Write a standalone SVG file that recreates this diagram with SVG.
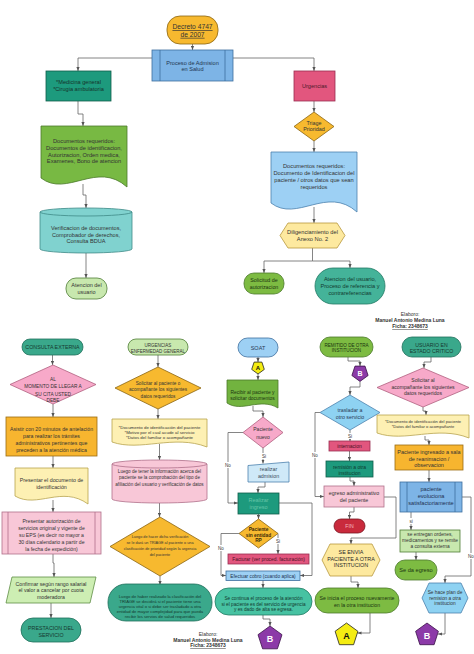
<svg xmlns="http://www.w3.org/2000/svg" width="474" height="654" viewBox="0 0 474 654">
<defs>
<marker id="ah" viewBox="0 0 10 10" refX="10" refY="5" markerWidth="4" markerHeight="4" markerUnits="userSpaceOnUse" orient="auto"><path d="M0,1 L10,5 L0,9 z" fill="#555"/></marker>
<style>
text{font-family:"Liberation Sans",Arial,sans-serif;fill:#333;text-anchor:middle;dominant-baseline:central}
.c{fill:none;stroke:#666;stroke-width:0.8;marker-end:url(#ah)}
.n{fill:none;stroke:#666;stroke-width:0.8}
.s{stroke-width:0.8}
.org{fill:#f7b92f;stroke:#8a6512}
.blu{fill:#7db4e6;stroke:#3d6e9e}
.lblu{fill:#9dd0f4;stroke:#4d82ad}
.cyan{fill:#8ed2f2;stroke:#4d82ad}
.tdk{fill:#1d9a7d;stroke:#0f5e4a}
.tmd{fill:#3aa88b;stroke:#1f6e5a}
.grn{fill:#7dbb42;stroke:#4b7a2b}
.lgr{fill:#c8e8ae;stroke:#4f7d36}
.pnk{fill:#e2567e;stroke:#9a2d50}
.lpk{fill:#f8c7d7;stroke:#b0708a}
.dpk{fill:#f7a9c9;stroke:#b0607f}
.lyl{fill:#fdf0b3;stroke:#b7a34c}
.hyl{fill:#fde99f;stroke:#b8983e}
.lbl{font-size:4.5px}
</style>
</defs>

<g id="connectors">
<path class="c" d="M192.5,44 V50"/>
<path class="c" d="M152,58 H78 V71"/>
<path class="c" d="M233,58 H314 V71"/>
<path class="c" d="M78,101 V114 H83 V126"/>
<path class="c" d="M83,184 V195 H86 V208"/>
<path class="c" d="M86,253 V278"/>
<path class="c" d="M314,101 V112"/>
<path class="c" d="M314,141 V152"/>
<path class="c" d="M314,207 V223"/>
<path class="c" d="M312.5,248 V261 H264 V273"/>
<path class="c" d="M312.5,261 H350 V268"/>

<path class="c" d="M52.5,355 V365"/>
<path class="c" d="M53,404 V417"/>
<path class="c" d="M53,456 V468"/>
<path class="c" d="M53,500 V512"/>
<path class="c" d="M53,554 V563 H54 V577"/>
<path class="c" d="M51,603 V618"/>

<path class="c" d="M158,355 V367"/>
<path class="c" d="M158,409 V419"/>
<path class="c" d="M159.5,444 V460"/>
<path class="c" d="M159.5,503 V517"/>
<path class="c" d="M160,576 V585"/>

<path class="c" d="M258,357 V362"/>
<path class="c" d="M258,374 V380"/>
<path class="c" d="M253,406 V411 H263 V417"/>
<path class="c" d="M263,448 V463.5"/>
<path class="c" d="M243,432.5 H228 V503 H238"/>
<path class="c" d="M265,482 V487 H258 V493"/>
<path class="c" d="M279,503 H312 V575.5 H300"/>
<path class="c" d="M258.5,514 V519"/>
<path class="c" d="M278,533.5 V554"/>
<path class="c" d="M239,533.5 H221 V575.5 H226"/>
<path class="c" d="M263,580 V588"/>
<path class="c" d="M263,615 V619 H270 V626"/>

<path class="c" d="M348,357 V361 H360 V366"/>
<path class="c" d="M360,381.5 V387 H350 V395"/>
<path class="c" d="M350,430 V441"/>
<path class="c" d="M320,412.5 H315 V496.5 H324"/>
<path class="c" d="M349.5,451 V461"/>
<path class="c" d="M350,477 V481 H354 V486"/>
<path class="c" d="M354,507 V512 H349.5 V519"/>
<path class="c" d="M384,497 H396 V538 H351 V544"/>
<path class="c" d="M351,576 V582 H358 V588"/>
<path class="c" d="M370,613 V633 H357.5"/>

<path class="c" d="M431,357 V362 H424 V368"/>
<path class="c" d="M423,407 V411 H426 V415"/>
<path class="c" d="M425,436 V440 H429 V445"/>
<path class="c" d="M429,470 V482"/>
<path class="c" d="M411,512 V530"/>
<path class="c" d="M462,497 H471 V576 H445 V583"/>
<path class="c" d="M416,552 V560"/>
<path class="c" d="M445,613 V634 H438"/>

<g id="labels">
<rect x="259" y="453" width="10" height="6" fill="#fff"/><text x="264" y="456" class="lbl">Si</text>
<rect x="223" y="462" width="10" height="6" fill="#fff"/><text x="228" y="465" class="lbl">No</text>
<rect x="273" y="538" width="10" height="6" fill="#fff"/><text x="278" y="541" class="lbl">Si</text>
<rect x="216" y="545" width="10" height="6" fill="#fff"/><text x="221" y="548" class="lbl">No</text>
<rect x="345" y="433" width="10" height="6" fill="#fff"/><text x="350" y="436" class="lbl">Si</text>
<rect x="310" y="452" width="10" height="6" fill="#fff"/><text x="315" y="455" class="lbl">No</text>
<rect x="407" y="518" width="8" height="6" fill="#fff"/><text x="411" y="521" class="lbl">si</text>
<rect x="466" y="553" width="10" height="6" fill="#fff"/><text x="471" y="556" class="lbl">No</text>
</g>
</g>

<!-- TOP SECTION -->
<g id="decreto">
<rect class="org s" x="167" y="16" width="51" height="28" rx="13"/>
<text x="192.5" y="26.8" font-size="6.7" text-decoration="underline">Decreto 4747</text>
<text x="192.5" y="34.3" font-size="6.7" text-decoration="underline">de 2007</text>
</g>
<g id="proceso">
<rect class="blu s" x="152" y="50" width="81" height="31"/>
<line x1="160" y1="50" x2="160" y2="81" stroke="#3d6e9e" stroke-width="0.8"/>
<line x1="225" y1="50" x2="225" y2="81" stroke="#3d6e9e" stroke-width="0.8"/>
<text x="192.5" y="62.5" font-size="5.6" style="fill:#23344f">Proceso de Admision</text>
<text x="192.5" y="69" font-size="5.6" style="fill:#23344f">en Salud</text>
</g>
<g id="medicina">
<rect class="tdk s" x="46" y="71" width="65" height="30"/>
<text x="78.5" y="82" font-size="5.6" style="fill:#15332b">*Medicina general</text>
<text x="78.5" y="89" font-size="5.6" style="fill:#15332b">*Cirugia ambulatoria</text>
</g>
<g id="docs-requeridos">
<path class="grn s" d="M41,126 H127 V187 C97,160 67,198 41,178 Z" style="fill:#78b943"/>
<text x="84" y="141.3" font-size="5.7">Documentos requeridos:</text>
<text x="84" y="148" font-size="5.7">Documentos de identificacion,</text>
<text x="84" y="154.7" font-size="5.7">Autorizacion, Orden medica,</text>
<text x="84" y="161.3" font-size="5.7">Examenes, Bono de atencion</text>
</g>
<g id="verificacion">
<path d="M40,212 V249 A46,4 0 0 0 132,249 V212 Z" fill="#80d2cf" stroke="#3f8a88" stroke-width="0.8"/>
<ellipse cx="86" cy="212" rx="46" ry="4" fill="#80d2cf" stroke="#3f8a88" stroke-width="0.8"/>
<text x="86" y="228" font-size="5.6">Verificacion de documentos,</text>
<text x="86" y="234.7" font-size="5.6">Comprobador de derechos,</text>
<text x="86" y="241.3" font-size="5.6">Consulta BDUA</text>
</g>
<g id="atencion1">
<rect class="lgr s" x="66" y="278" width="41" height="21" rx="10"/>
<text x="86.5" y="285.3" font-size="5.5">Atencion del</text>
<text x="86.5" y="291.8" font-size="5.5">usuario</text>
</g>
<g id="urgencias">
<rect class="pnk s" x="294" y="71" width="41" height="30"/>
<text x="314.5" y="86" font-size="5.6" style="fill:#4a1a2a">Urgencias</text>
</g>
<g id="triage">
<polygon class="org s" points="314,112 334,126.5 314,141 294,126.5"/>
<text x="314" y="122.5" font-size="5.4">Triage</text>
<text x="314" y="129.3" font-size="5.4">Prioridad</text>
</g>
<g id="docs-urg">
<path class="lblu s" d="M271,152 H357 V212 C327,185 297,223 271,203 Z"/>
<text x="314" y="166" font-size="5.7">Documentos requeridos:</text>
<text x="314" y="173" font-size="5.7">Documento de Identificacion del</text>
<text x="314" y="180" font-size="5.7">paciente / otros datos que sean</text>
<text x="314" y="187" font-size="5.7">requeridos</text>
</g>
<g id="anexo">
<polygon class="hyl s" points="288,223 337,223 345,235.5 337,248 288,248 280,235.5"/>
<text x="312.5" y="232" font-size="5.7">Diligenciamiento del</text>
<text x="312.5" y="239.3" font-size="5.7">Anexo No. 2</text>
</g>
<g id="solicitud">
<rect class="grn s" x="244" y="273" width="40" height="21" rx="10"/>
<text x="264" y="279.7" font-size="5.3" style="fill:#1b3510">Solicitud de</text>
<text x="264" y="287" font-size="5.3" style="fill:#1b3510">autorizacion</text>
</g>
<g id="atencion2">
<rect x="315" y="268" width="70" height="36" rx="18" fill="#44b399" stroke="#237a64" stroke-width="0.8"/>
<text x="350" y="279" font-size="5.6" style="fill:#123a30">Atencion del usuario,</text>
<text x="350" y="286" font-size="5.6" style="fill:#123a30">Proceso de referencia y</text>
<text x="350" y="293" font-size="5.6" style="fill:#123a30">contrareferencias</text>
</g>
<g id="elaboro1">
<text x="410" y="314" font-size="5">Elaboro:</text>
<text x="410" y="320" font-size="5" font-weight="bold">Manuel Antonio Medina Luna</text>
<text x="410" y="326" font-size="5" font-weight="bold" text-decoration="underline">Ficha: 2348673</text>
</g>

<!-- COLUMN 1 -->
<g id="consulta-externa">
<rect class="tmd s" x="22" y="339" width="61" height="16" rx="8"/>
<text x="52.5" y="347.3" font-size="5.3" style="fill:#163a30">CONSULTA EXTERNA</text>
</g>
<g id="al-momento">
<polygon class="dpk s" points="53,365 96,384.5 53,404 10,384.5"/>
<text x="53" y="379" font-size="4.8">AL</text>
<text x="53" y="386.5" font-size="4.8">MOMENTO DE LLEGAR A</text>
<text x="53" y="394" font-size="4.8">SU CITA USTED</text>
<text x="53" y="400.8" font-size="4.8">DEBE</text>
</g>
<g id="asistir">
<rect x="6" y="417" width="91" height="39" fill="#f7b52f" stroke="#9b6d12" stroke-width="0.8"/>
<text x="51.5" y="429" font-size="5.2">Asistir con 20 minutos de antelación</text>
<text x="51.5" y="436" font-size="5.2">para realizar los trámites</text>
<text x="51.5" y="443" font-size="5.2">administrativos pertinentes que</text>
<text x="51.5" y="450" font-size="5.2">preceden a la atención médica</text>
</g>
<g id="presentar-doc">
<path class="lyl s" d="M15,468 H88 V504 C62,485 37,509 15,496 Z"/>
<text x="51.5" y="480" font-size="5.3">Presentar el documento de</text>
<text x="51.5" y="487" font-size="5.3">identificación</text>
</g>
<g id="presentar-aut">
<rect class="lpk s" x="2" y="512" width="99" height="42"/>
<line x1="8" y1="512" x2="8" y2="554" stroke="#b0708a" stroke-width="0.8"/>
<line x1="95" y1="512" x2="95" y2="554" stroke="#b0708a" stroke-width="0.8"/>
<text x="51.5" y="521" font-size="5.1">Presentar autorización de</text>
<text x="51.5" y="528" font-size="5.1">servicios original y vigente de</text>
<text x="51.5" y="535" font-size="5.1">su EPS (es decir no mayor a</text>
<text x="51.5" y="542" font-size="5.1">30 días calendario a partir de</text>
<text x="51.5" y="549" font-size="5.1">la fecha de expedición)</text>
</g>
<g id="confirmar">
<polygon points="12,577 96,577 90,603 6,603" fill="#cdeeb3" stroke="#5e8d45" stroke-width="0.8"/>
<text x="51" y="583.5" font-size="5.2">Confirmar según rango salarial</text>
<text x="51" y="590.2" font-size="5.2">el valor a cancelar por cuota</text>
<text x="51" y="597" font-size="5.2">moderadora</text>
</g>
<g id="prestacion">
<rect class="tmd s" x="21" y="618" width="60" height="24" rx="12"/>
<text x="51" y="628" font-size="5.3" style="fill:#163a30">PRESTACION DEL</text>
<text x="51" y="634.5" font-size="5.3" style="fill:#163a30">SERVICIO</text>
</g>

<!-- COLUMN 2 -->
<g id="urgencias-eg">
<rect class="lgr s" x="128" y="339" width="60" height="16" rx="8"/>
<text x="158" y="345.8" font-size="4.5">URGENCIAS</text>
<text x="158" y="351.3" font-size="4.5">ENFERMEDAD GENERAL</text>
</g>
<g id="solicitar-paciente">
<polygon class="org s" points="158,367 201,388 158,409 115,388"/>
<text x="158" y="383" font-size="4.7">Solicitar al paciente o</text>
<text x="158" y="389.8" font-size="4.7">acompañante los siguientes</text>
<text x="158" y="396.3" font-size="4.7">datos requeridos</text>
</g>
<g id="doc-paciente">
<path class="lyl s" d="M112,419 H207 V447 C174,434 140,452 112,442 Z"/>
<text x="159.5" y="427" font-size="4.4">*Documento de identificación del paciente</text>
<text x="159.5" y="432.2" font-size="4.4">*Motivo por el cual acude al servicio</text>
<text x="159.5" y="437.3" font-size="4.4">*Datos del familiar o acompañante</text>
</g>
<g id="comprobacion">
<path d="M112,464 V499 A47.5,4 0 0 0 207,499 V464 Z" fill="#f8c7d7" stroke="#b0708a" stroke-width="0.8"/>
<ellipse cx="159.5" cy="464" rx="47.5" ry="4" fill="#f8c7d7" stroke="#b0708a" stroke-width="0.8"/>
<text x="159.5" y="471" font-size="4.6">Luego de tener la información acerca del</text>
<text x="159.5" y="477.6" font-size="4.6">paciente se la comprobación del tipo de</text>
<text x="159.5" y="484.2" font-size="4.6">afiliación del usuario y verificación de datos</text>
</g>
<g id="triage-decision">
<polygon class="org s" points="160,517 210,546.5 160,576 110,546.5"/>
<text x="160" y="537" font-size="3.8">Luego de hacer dicha verificación</text>
<text x="160" y="543.2" font-size="3.8">se le dará un TRIAGE  al paciente o una</text>
<text x="160" y="549.3" font-size="3.8">clasificación de prioridad según la urgencia</text>
<text x="160" y="555.3" font-size="3.8">del paciente</text>
</g>
<g id="clasificacion">
<rect class="tmd s" x="108" y="584" width="104" height="37" rx="18"/>
<text x="160" y="596" font-size="4.2" style="fill:#143a30">Luego de haber realizado la clasificación del</text>
<text x="160" y="601.2" font-size="4.2" style="fill:#143a30">TRIAGE se decidirá si el paciente tiene una</text>
<text x="160" y="606.4" font-size="4.2" style="fill:#143a30">urgencia vital o si debe ser trasladado a otra</text>
<text x="160" y="611.6" font-size="4.2" style="fill:#143a30">entidad de mayor complejidad para que pueda</text>
<text x="160" y="616.8" font-size="4.2" style="fill:#143a30">recibir los servios de salud requeridos</text>
</g>
<g id="elaboro2">
<text x="208" y="634" font-size="5">Elaboro:</text>
<text x="208" y="639.7" font-size="5" font-weight="bold">Manuel Antonio Medina Luna</text>
<text x="208" y="645.4" font-size="5" font-weight="bold" text-decoration="underline">Ficha: 2348673</text>
</g>

<!-- COLUMN 3 -->
<g id="soat">
<rect class="lblu s" x="238" y="338" width="40" height="19" rx="9.5" style="stroke:#3d6e9e"/>
<text x="258" y="347.5" font-size="5.5" style="fill:#2a3a55">SOAT</text>
</g>
<g id="conn-a-top">
<polygon points="264.3,369.4 258,374 251.7,369.4 254.1,362.1 261.9,362.1" fill="#f4ec12" stroke="#222" stroke-width="0.8"/>
<text x="258" y="367.6" font-size="6" font-weight="bold" style="fill:#111">A</text>
</g>
<g id="recibir">
<path d="M227,380 H278 V408 C260,397 242,413 227,403 Z" fill="#72b33f" stroke="#4b7a2b" stroke-width="0.8"/>
<text x="252.5" y="392.5" font-size="4.9" style="fill:#1b3510">Recibir al paciente y</text>
<text x="252.5" y="398.5" font-size="4.9" style="fill:#1b3510">solicitar documentos</text>
</g>
<g id="paciente-nuevo">
<polygon class="dpk s" points="263,417 283,432.5 263,448 243,432.5"/>
<text x="263" y="429" font-size="5">Paciente</text>
<text x="263" y="436.5" font-size="5">nuevo</text>
</g>
<g id="realizar-admision">
<polygon points="248,465.5 289,462 289,482 248,482" fill="#cfe9f8" stroke="#4d82ad" stroke-width="0.8"/>
<text x="268.5" y="468.7" font-size="5.3" style="fill:#3a4a5a">realizar</text>
<text x="268.5" y="475.5" font-size="5.3" style="fill:#3a4a5a">admision</text>
</g>
<g id="realizar-ingreso">
<rect class="tdk s" x="238" y="493" width="41" height="21"/>
<text x="258.5" y="499.5" font-size="5.5" style="fill:#66c6a8">Realizar</text>
<text x="258.5" y="506.5" font-size="5.5" style="fill:#66c6a8">ingreso</text>
</g>
<g id="sin-entidad">
<polygon class="org s" points="258.5,519 278,533.5 258.5,548 239,533.5"/>
<text x="258.5" y="529" font-size="4.8" font-weight="bold" style="fill:#3a2a08">Paciente</text>
<text x="258.5" y="535" font-size="4.8" font-weight="bold" style="fill:#3a2a08">sin entidad</text>
<text x="258.5" y="540.6" font-size="4.8" font-weight="bold" style="fill:#3a2a08">RP</text>
</g>
<g id="facturar">
<rect class="pnk s" x="228" y="554" width="81" height="10"/>
<text x="268.5" y="559.2" font-size="4.9" style="fill:#4a1024">Facturar (ver proced. facturación)</text>
</g>
<g id="efectuar">
<rect class="lblu s" x="226" y="571" width="74" height="9.5" style="stroke:#3d6e9e"/>
<text x="263" y="576" font-size="4.8" style="fill:#1d3050">Efectuar cobro (cuando aplica)</text>
</g>
<g id="se-continua">
<rect x="215" y="588" width="97" height="27" rx="13.5" fill="#47c2a2" stroke="#227a62" stroke-width="0.8"/>
<text x="263.5" y="598.7" font-size="4.7" style="fill:#123a30">Se continua el proceso de la atención</text>
<text x="263.5" y="604.2" font-size="4.7" style="fill:#123a30">si el paciente es del servicio de urgencia</text>
<text x="263.5" y="609.7" font-size="4.7" style="fill:#123a30">y es dado de alta se egresa.</text>
</g>
<g id="conn-b-1">
<polygon points="270,626 282,634.7 277.4,648.8 262.6,648.8 258,634.7" fill="#8c3aa8" stroke="#3a1048" stroke-width="0.8"/>
<text x="270" y="639" font-size="9" font-weight="bold" style="fill:#fff">B</text>
</g>

<!-- COLUMN 4 -->
<g id="remitido">
<rect class="grn s" x="320" y="337" width="53" height="20" rx="10"/>
<text x="346.5" y="345" font-size="4.6" style="fill:#1b3510">REMITIDO DE OTRA</text>
<text x="346.5" y="350.6" font-size="4.6" style="fill:#1b3510">INSTITUCION</text>
</g>
<g id="conn-b-top">
<polygon points="368.1,375.5 360,381.4 351.9,375.5 355,366.1 365,366.1" fill="#8c3aa8" stroke="#3a1048" stroke-width="0.8"/>
<text x="360" y="373" font-size="7" font-weight="bold" style="fill:#fff">B</text>
</g>
<g id="trasladar">
<polygon class="cyan s" points="350,395 380,412.5 350,430 320,412.5"/>
<text x="350" y="410" font-size="5.3" style="fill:#2a3a55">trasladar a</text>
<text x="350" y="416.5" font-size="5.3" style="fill:#2a3a55">otro servicio</text>
</g>
<g id="internacion">
<rect class="pnk s" x="329" y="441" width="41" height="10"/>
<text x="349.5" y="446.2" font-size="5" style="fill:#4a1024">internacion</text>
</g>
<g id="remision">
<rect class="tdk s" x="326" y="461" width="47" height="16"/>
<text x="349.5" y="466.8" font-size="5" style="fill:#0d3b30">remisión a otra</text>
<text x="349.5" y="473.2" font-size="5" style="fill:#0d3b30">institucion</text>
</g>
<g id="egreso">
<rect class="lpk s" x="324" y="486" width="60" height="21"/>
<text x="354" y="492.5" font-size="5.3">egreso administrativo</text>
<text x="354" y="500" font-size="5.3">del paciente</text>
</g>
<g id="fin">
<rect x="334" y="519" width="31" height="14" rx="7" fill="#c92a3c" stroke="#7a1420" stroke-width="0.8"/>
<text x="349.5" y="526.2" font-size="5.2" style="fill:#f3b6bd">FIN</text>
</g>
<g id="se-envia">
<polygon class="hyl s" points="330,544 372,544 380,560 372,576 330,576 322,560"/>
<text x="351" y="552" font-size="5.4" style="fill:#2a2a2a">SE ENVIA</text>
<text x="351" y="558.5" font-size="5.4" style="fill:#2a2a2a">PACIENTE A OTRA</text>
<text x="351" y="565" font-size="5.4" style="fill:#2a2a2a">INSTITUCION</text>
</g>
<g id="se-inicia">
<rect class="grn s" x="315" y="588" width="84" height="25" rx="12.5"/>
<text x="357" y="597.5" font-size="5.2" style="fill:#1b3510">Se inicia el proceso nuevamente</text>
<text x="357" y="604.5" font-size="5.2" style="fill:#1b3510">en la otra institucion</text>
</g>
<g id="conn-a-2">
<polygon points="346.5,623 357.9,631.3 353.6,644.7 339.4,644.7 335.1,631.3" fill="#f4ec12" stroke="#222" stroke-width="0.8"/>
<text x="346.5" y="636" font-size="9" font-weight="bold" style="fill:#111">A</text>
</g>

<!-- COLUMN 5 -->
<g id="usuario-critico">
<rect class="tmd s" x="402" y="337" width="59" height="20" rx="10"/>
<text x="431.5" y="344.5" font-size="5.2" style="fill:#163a30">USUARIO EN</text>
<text x="431.5" y="351" font-size="5.2" style="fill:#163a30">ESTADO CRITICO</text>
</g>
<g id="solicitar-acomp">
<polygon class="dpk s" points="423,368 469,387.5 423,407 377,387.5"/>
<text x="423" y="380" font-size="5.1">Solicitar al</text>
<text x="423" y="386.7" font-size="5.1">acompañante los siguientes</text>
<text x="423" y="393" font-size="5.1">datos requeridos</text>
</g>
<g id="doc-critico">
<path class="lyl s" d="M377,415 H469 V438 C437,425 405,443 377,433 Z"/>
<text x="423" y="421" font-size="4.1">*Documento de identificación del paciente</text>
<text x="423" y="426" font-size="4.1">*Datos del familiar o acompañante</text>
</g>
<g id="paciente-ingresado">
<rect x="395" y="445" width="68" height="25" fill="#f7b52f" stroke="#9b6d12" stroke-width="0.8"/>
<text x="429" y="452" font-size="5.5">Paciente ingresado a sala</text>
<text x="429" y="458.5" font-size="5.5">de reanimacion /</text>
<text x="429" y="465" font-size="5.5">observacion</text>
</g>
<g id="evoluciona">
<rect class="blu s" x="400" y="482" width="62" height="30"/>
<line x1="407" y1="482" x2="407" y2="512" stroke="#3d6e9e" stroke-width="0.8"/>
<line x1="455" y1="482" x2="455" y2="512" stroke="#3d6e9e" stroke-width="0.8"/>
<text x="431" y="489" font-size="5.6" style="fill:#1d3050">paciente</text>
<text x="431" y="496" font-size="5.6" style="fill:#1d3050">evoluciona</text>
<text x="431" y="503" font-size="5.6" style="fill:#1d3050">satisfactoriamente</text>
</g>
<g id="ordenes">
<rect class="lgr s" x="400" y="530" width="60" height="22"/>
<text x="430" y="534.6" font-size="4.8">se entregan ordenes,</text>
<text x="430" y="540.6" font-size="4.8">medicamentos y se remite</text>
<text x="430" y="546.6" font-size="4.8">a consulta externa</text>
</g>
<g id="se-da-egreso">
<rect class="grn s" x="395" y="560" width="42" height="20" rx="10"/>
<text x="416" y="570" font-size="5.6" style="fill:#1b3510">Se da egreso</text>
</g>
<g id="plan-remision">
<polygon class="cyan s" points="429,583 461,583 468,598 461,613 429,613 422,598"/>
<text x="445" y="592" font-size="4.8">Se hace plan de</text>
<text x="445" y="598" font-size="4.8">remision a otra</text>
<text x="445" y="603.6" font-size="4.8">institucion</text>
</g>
<g id="conn-b-2">
<polygon points="427,623 438.4,631.3 434.1,644.7 419.9,644.7 415.6,631.3" fill="#8c3aa8" stroke="#3a1048" stroke-width="0.8"/>
<text x="427" y="636" font-size="9" font-weight="bold" style="fill:#fff">B</text>
</g>
</svg>
